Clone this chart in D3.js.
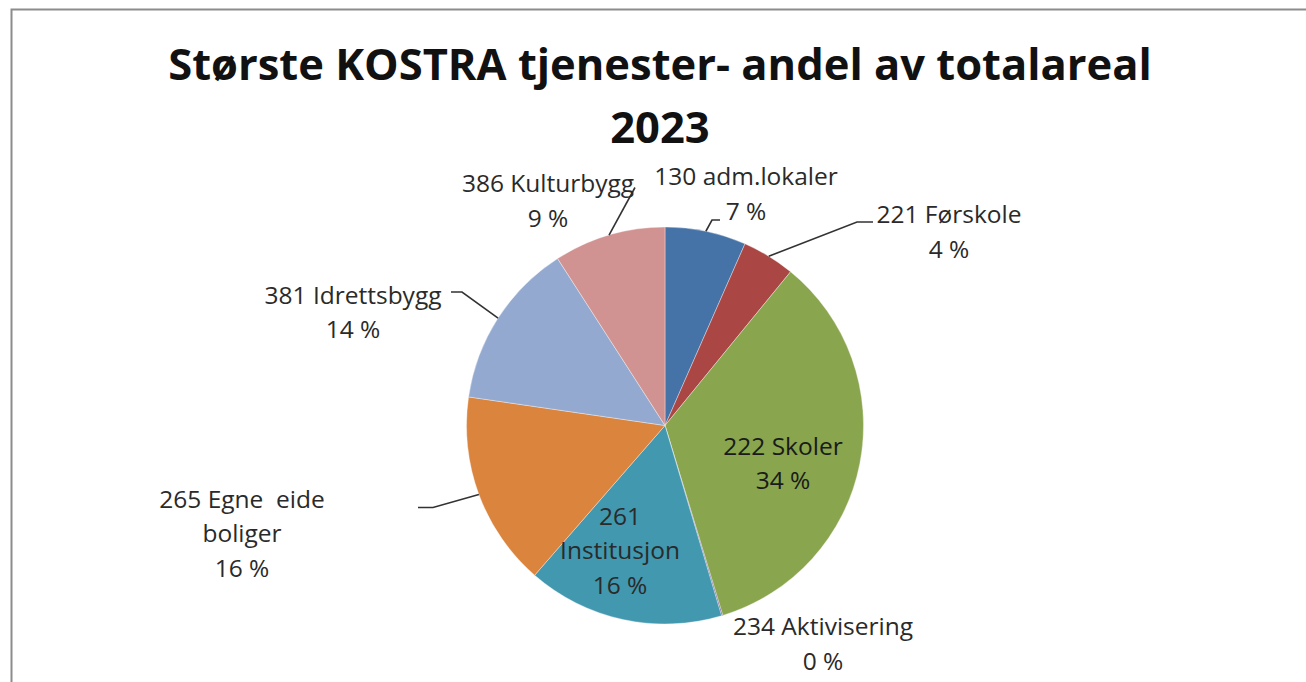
<!DOCTYPE html>
<html><head><meta charset="utf-8">
<script src="https://cdn.jsdelivr.net/npm/d3@7"></script>
<style>html,body{margin:0;padding:0;background:#fff;overflow:hidden}</style>
</head><body>
<svg id="c" width="1306" height="682"></svg>
<script>
// ---- data ----
const categories = ["130 adm.lokaler","221 Førskole","222 Skoler","234 Aktivisering","261 Institusjon","265 Egne eide boliger","381 Idrettsbygg","386 Kulturbygg"];
const shares = [6.6, 4.3, 34.4, 0.1, 16.0, 15.9, 13.6, 9.1];
const colors = ["#4572A7","#AA4643","#89A54E","#71588F","#4198AF","#DB843D","#93A9CF","#D19392"];
const labelLines = [
  ["130 adm.lokaler"],
  ["221 Førskole"],
  ["222 Skoler"],
  ["234 Aktivisering"],
  ["261","Institusjon"],
  ["265 Egne  eide","boliger"],
  ["381 Idrettsbygg"],
  ["386 Kulturbygg"]
];
const titleLines = ["Største KOSTRA tjenester- andel av totalareal","2023"];

// ---- layout (first-line baselines relative to pie centre; leader elbow/end points) ----
const cx = 665, cy = 425.5, R = 198.5;
const layout = [
  {x: 81,  y:-240.5, elbow:[47,-205.5], end:[55,-205.5]},
  {x: 284, y:-202.5, elbow:[192,-203.5], end:[208,-203.5]},
  {x: 118, y: 29},
  {x: 158, y: 209.5},
  {x: -45, y: 99},
  {x: -423,y: 82, elbow:[-232,82], end:[-247,82]},
  {x: -312,y:-122, elbow:[-203,-133.5], end:[-214,-133.5]},
  {x: -117,y:-233.5, elbow:[-30,-238], end:[-30,-238]}
];
const lineH = 34.5;
const labelFont = "'Open Sans', sans-serif";

const svg = d3.select("#c");
svg.append("path").attr("d","M11.5,700 L11.5,9.5 L1320,9.5")
  .attr("fill","none").attr("stroke","#8c8c8c").attr("stroke-width",2);

svg.append("text").attr("text-anchor","middle")
  .attr("font-family",labelFont).attr("font-weight","bold")
  .attr("font-size",43.5).attr("fill","#111")
  .selectAll("tspan").data(titleLines).join("tspan")
  .attr("x",660).attr("y",(d,i)=>80+i*63).text(d=>d);

const pie = d3.pie().sort(null).value(d=>d);
const arcs = pie(shares);
const arc = d3.arc().innerRadius(0).outerRadius(R);
const g = svg.append("g").attr("transform",`translate(${cx},${cy})`);
g.selectAll("path.s").data(arcs).join("path").attr("class","s")
  .attr("d",arc).attr("fill",(d,i)=>colors[i])
  .attr("stroke","#fff").attr("stroke-width",0.6).attr("stroke-opacity",0.6);

const fmt = v => Math.round(v) + " %";
arcs.forEach((a,i)=>{
  const L = layout[i];
  if(!L.elbow) return;
  const m = (a.startAngle+a.endAngle)/2;
  const p0 = [Math.sin(m)*R, -Math.cos(m)*R];
  g.append("polyline").attr("points",[p0,L.elbow,L.end].map(p=>p.join(",")).join(" "))
    .attr("fill","none").attr("stroke","#333").attr("stroke-width",1.6);
});
arcs.forEach((a,i)=>{
  const L = layout[i];
  const lines = labelLines[i].concat([fmt(shares[i])]);
  const t = g.append("text").attr("text-anchor","middle")
    .attr("font-family",labelFont).attr("font-size",24.5)
    .style("white-space","pre")
    .attr("fill", i===2 ? "#1a1a1a" : "#2a2a2a");
  lines.forEach((s,k)=>{
    t.append("tspan").attr("x",L.x).attr("y",L.y + k*lineH).text(s);
  });
});
</script>
</body></html>
